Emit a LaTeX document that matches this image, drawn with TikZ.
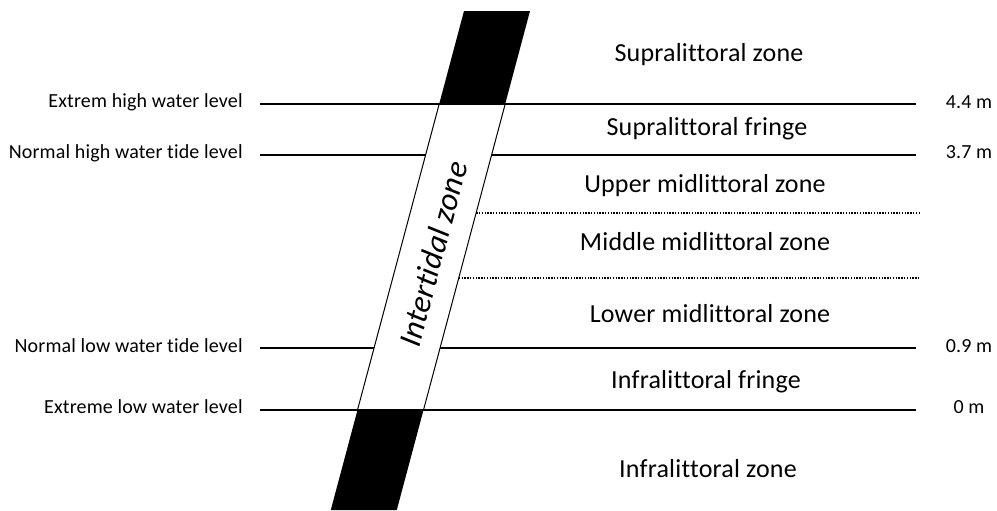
\documentclass[tikz,border=0pt]{standalone}
\usepackage{fontspec}
\setmainfont{Carlito}[Ligatures={NoCommon}, LetterSpace=0.8]
\begin{document}
\begin{tikzpicture}[x=0.5pt,y=-0.5pt,
  level/.style={line width=1.45pt},
  sublevel/.style={line width=0.9pt, dash pattern=on 0.7pt off 0.7pt},
  bandedge/.style={line width=0.5pt},
  levellabel/.style={font=\fontsize{10}{12}\selectfont, inner sep=0pt, anchor=base east},
  heightlabel/.style={font=\fontsize{10}{12}\selectfont, inner sep=0pt, anchor=base},
  zonelabel/.style={font=\fontsize{13}{15}\selectfont, inner sep=0pt, anchor=base},
]
\useasboundingbox (0,0) rectangle (997,510);

% end points of the level lines
\coordinate (ehL) at (260,104); \coordinate (ehR) at (916,104);
\coordinate (nhL) at (260,155); \coordinate (nhR) at (916,155);
\coordinate (nlL) at (260,348); \coordinate (nlR) at (916,348);
\coordinate (elL) at (260,410); \coordinate (elR) at (916,410);

% corners of the slanted intertidal band
\coordinate (topL)  at (464,11);    \coordinate (topR)  at (530,11);
\coordinate (ehBL)  at (439.2,104); \coordinate (ehBR)  at (505.2,104);
\coordinate (elBL)  at (357.5,410); \coordinate (elBR)  at (423.5,410);
\coordinate (botL)  at (330.8,510); \coordinate (botR)  at (396.8,510);

% dotted sub-levels start on the band's right edge
\coordinate (umS) at (476.1,213); \coordinate (umE) at (920,213);
\coordinate (mmS) at (458.7,278); \coordinate (mmE) at (920,278);

% tide levels hidden behind the band
\draw[level] (nhL) -- (nhR);
\draw[level] (nlL) -- (nlR);
\draw[sublevel] (umS) -- (umE);
\draw[sublevel] (mmS) -- (mmE);

% white intertidal band
\fill[white] (ehBL) -- (ehBR) -- (elBR) -- (elBL) -- cycle;
\draw[bandedge] (ehBL) -- (elBL);
\draw[bandedge] (ehBR) -- (elBR);

% extreme levels drawn across the band
\draw[level] (ehL) -- (ehR);
\draw[level] (elL) -- (elR);

% black parts above and below the intertidal zone
\fill[black] (topL) -- (topR) -- (ehBR) -- (ehBL) -- cycle;
\fill[black] (elBL) -- (elBR) -- (botR) -- (botL) -- cycle;

% band label
\node[font=\fontsize{16}{19}\selectfont\itshape, rotate=75, inner sep=0pt] (itz) at (433,254) {Intertidal zone};

% level names
\node[levellabel] (lEH) at (243,107) {Extrem high water level};
\node[levellabel] (lNH) at (243,158) {Normal high water tide level};
\node[levellabel] (lNL) at (243,352) {Normal low water tide level};
\node[levellabel] (lEL) at (243,413) {Extreme low water level};

% heights
\node[heightlabel] (hEH) at (969,108) {4.4 m};
\node[heightlabel] (hNH) at (969,158) {3.7 m};
\node[heightlabel] (hNL) at (969,352) {0.9 m};
\node[heightlabel] (hEL) at (969,413) {0 m};

% zone names
\node[zonelabel] (zSZ) at (709,61)  {Supralittoral zone};
\node[zonelabel] (zSF) at (707,135) {Supralittoral fringe};
\node[zonelabel] (zUM) at (705,192) {Upper midlittoral zone};
\node[zonelabel] (zMM) at (705,250) {Middle midlittoral zone};
\node[zonelabel] (zLM) at (710,322) {Lower midlittoral zone};
\node[zonelabel] (zIF) at (706,388) {Infralittoral fringe};
\node[zonelabel] (zIZ) at (708,477) {Infralittoral zone};
\end{tikzpicture}
\end{document}
